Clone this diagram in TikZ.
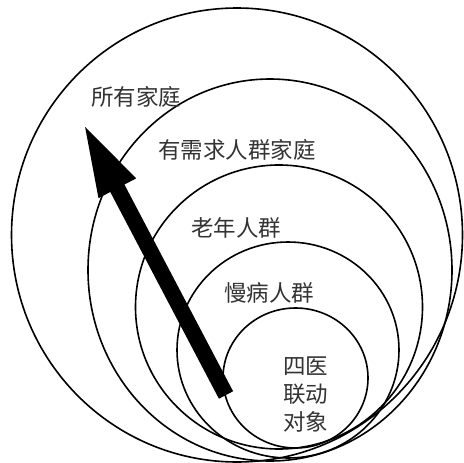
\documentclass[tikz,border=0pt]{standalone}
\usepackage{fontspec}
\newfontfamily\cjk{Noto Sans CJK SC}
\usetikzlibrary{arrows.meta}
\begin{document}
\begin{tikzpicture}[x=1pt,y=-1pt,
  ring/.style={draw=black,line width=1.6pt},
  lbl/.style={font=\cjk\fontsize{22.5}{28}\selectfont,text=black!80,inner sep=0pt,align=center},
  bigarrow/.style={line width=16pt,-{Triangle[length=76pt,width=37pt]}}]
\useasboundingbox (0,0) rectangle (463,463);
\fill[white] (0,0) rectangle (463,463);
% rings
\draw[ring] (237,235) ellipse [x radius=225.5, y radius=227];
\draw[ring] (270,270) ellipse [x radius=182, y radius=191];
\draw[ring] (279,307) ellipse [x radius=143.5, y radius=142];
\draw[ring] (288,350) ellipse [x radius=111, y radius=108];
\draw[ring] (295.5,378) ellipse [x radius=72.5, y radius=70];
% arrow
\coordinate (tail) at (226,395);
\coordinate (tip) at (82,121);
\draw[bigarrow] (tail) -- (tip);
% labels
\node[lbl] (all) at (136,97) {所有家庭};
\node[lbl] (need) at (237,150) {有需求人群家庭};
\node[lbl] (old) at (236,228) {老年人群};
\node[lbl] (chronic) at (269,293) {慢病人群};
\node[lbl] (target) at (305.5,395) {四医\\[0pt]联动\\[0pt]对象};
\end{tikzpicture}
\end{document}
